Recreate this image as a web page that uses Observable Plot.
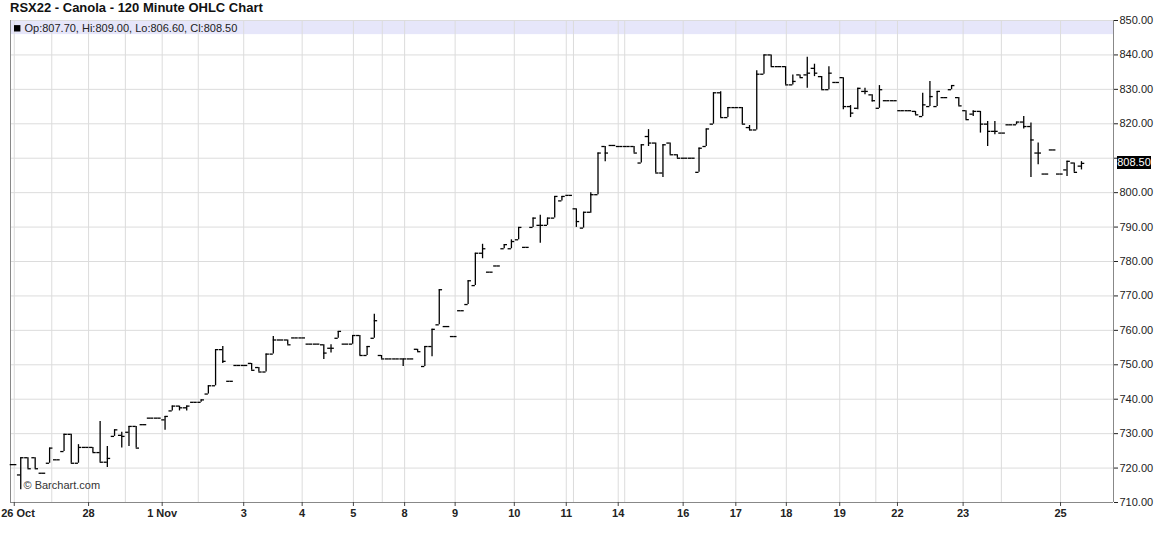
<!DOCTYPE html>
<html>
<head>
<meta charset="utf-8">
<script src="https://cdn.jsdelivr.net/npm/d3@7"></script>
<script src="https://cdn.jsdelivr.net/npm/@observablehq/plot@0.6"></script>
<style>
  html, body { margin: 0; padding: 0; background: #fff; }
  #wrap { position: relative; width: 1156px; height: 542px; overflow: hidden; font-family: "Liberation Sans", Arial, sans-serif; }
  #title { position: absolute; left: 10px; top: 0px; font-size: 13px; font-weight: bold; color: #111; line-height: 16px; white-space: nowrap; }
  #last { position: absolute; background: #000; color: #fff; font-size: 11px; line-height: 13px; height: 13px; text-align: center; }
</style>
</head>
<body>
<div id="wrap">
  <div id="title">RSX22 - Canola - 120 Minute OHLC Chart</div>
</div>
<script>
// OHLC values of the 120-minute bars (in order)
const O = [721,718,723,723,718.5,721.4,722.4,724.8,729.8,721.4,726,726,724.5,721.7,729.2,729.5,730.4,732.1,732.6,734.5,734.5,734,736.6,738,737.5,739.1,739.1,741.5,743.9,754.4,745.2,749.8,749.8,750.4,749.2,747.9,753.1,757.2,757.2,757.8,757.8,756,756,755.8,754.8,757.7,756,756,758.5,752.7,757.7,752.7,751.7,751.7,751.7,751.7,754.5,749.5,755.3,761.6,761.1,758.2,765.7,767.5,773,782.4,776.9,778.7,783.7,783.7,786.3,784.1,789.9,790.5,790.5,792.6,797.6,799.2,795.3,789.7,794.3,799.4,813.4,813.7,813.4,813.4,813.4,808.6,816.3,814.4,805.7,814.4,811,810,810,805.9,813.4,819.9,829,821.8,824.7,824.7,818.9,818.2,834.4,840,836.6,836.6,831.3,834.2,834.2,836.1,833.7,829.9,832,833.4,825,824.5,829.4,828.4,824.5,826.7,826.7,823.8,823.8,823.6,822.1,825,825,827.6,829.9,827.6,823.8,822.8,823.6,819.9,817.8,817.3,819.7,819.7,820.5,819.2,811.5,805.4,812.4,805.4,806.6,808.6,807.7];
const H = [721,723,723,723,718.5,725.8,722.4,729.8,729.8,726.8,726,726,733.5,726.3,731.1,730.4,732.1,732.1,732.6,734.5,734.5,735,738,738,738,739.1,739.8,743.9,754.4,755.3,745.2,749.8,749.8,750.4,749.2,753.1,758.2,757.2,757.2,757.8,757.8,756,756,755.8,755.8,759.7,756,758.5,758.5,755.3,764.7,752.7,751.7,751.7,751.7,751.7,754.5,755.3,760.3,771.8,761.1,758.2,765.7,774.4,782.4,785,776.9,778.7,784.9,786.3,789.9,784.1,792.6,793.4,792.6,798.9,798.9,799.2,795.3,794.3,800,811.5,813.4,813.7,813.4,813.4,813.4,813.9,818.3,814.4,813.9,814.4,811,810,810,813,818.5,829,829.3,824.7,824.7,824.7,819.5,835.4,840,840,836.6,836.6,834.2,834.2,839.3,837.3,833.7,836.6,832,833.4,825.3,830.3,830.3,828.4,831.1,826.7,826.7,823.8,823.8,823.6,828.9,832.3,829.4,827.6,831.1,827.6,823.8,823.8,823.6,820.7,820.7,817.3,819.7,820.5,822.1,820.2,814.4,805.4,812.4,805.4,809.1,808.6,809];
const L = [721,713.7,719.8,719.8,718.5,721.4,722.4,724.8,721.4,721.4,726,724.5,721.7,720.2,729.2,725.8,726.3,725.8,732.6,734.5,734.5,731,736.6,736.6,736.6,739.1,739.1,741.5,743.9,750.4,745.2,749.8,749.8,748.4,747.9,747.9,753.1,757.2,755.8,757.8,757.8,756,756,751.5,753.4,757.7,756,756,752.7,752.7,757.7,751.7,751.7,751.7,749.5,751.7,753.8,749.5,752.3,761.6,761.1,758.2,765.7,767.5,773,780.8,776.9,778.7,783.7,783.7,786.3,784.1,789.9,785.3,790.5,792.6,797.6,799.2,789.9,789.7,794,799.4,809,813.7,813.4,813.4,811.5,808.6,813.4,805.7,804.4,811,810,810,810,805.9,813.4,819.9,821.8,821.8,824.7,819.9,818,818.2,834.4,836.6,836.6,831.3,831.3,833.4,830.3,833.7,829.9,829.9,832,824.1,821.8,824.1,828.4,826.3,824.5,826.7,826.7,823.8,823.8,822.6,822.1,825,825,827.6,829.9,825.2,821.2,822.1,817.3,813.4,816.8,817.3,819.7,819.7,818.5,804.4,808.1,805.4,812.4,805.4,804.7,805.9,806.6];
const C = [721,723,719.8,719.8,718.5,725.8,722.4,729.8,721.4,726,726,724.5,721.7,722.8,731.1,729.2,732.1,725.8,732.6,734.5,734.5,735,738,737.5,738,739.1,739.8,743.9,754.4,751,745.2,749.8,749.8,748.4,747.9,753.1,757.2,757.2,755.8,757.8,757.8,756,756,753.4,754.8,759.7,756,758.5,752.7,755.3,762.8,751.7,751.7,751.7,751.7,751.7,753.8,755.3,760.3,771.8,761.1,758.2,765.7,774.4,782.4,783.7,776.9,778.7,784.9,785.8,789.9,784.1,792.6,790.5,792.6,798.9,798.9,799.2,791.6,794.3,799.4,811.5,811.5,813.7,813.4,813.4,811.5,813.9,814.4,805.7,813.9,811,810,810,810,812.9,818.5,829,821.8,824.7,824.7,819.9,818.2,834.4,840,836.6,836.6,831.3,832.3,833.4,834.7,834.7,829.9,834.7,832,825,823.1,830.3,829.4,826.7,829.9,826.7,826.7,823.8,823.8,822.6,825.5,827.9,829.4,827.6,831.1,825.2,821.2,823.6,819.9,817.8,817.8,817.3,819.7,820.5,819.2,815.3,811.5,805.4,812.4,805.4,809.1,805.9,808.5];

// date axis (positions in bar index units) and labels
const tickX = [0.1, 10.4, 20.6, 31.9, 40.0, 47.1, 54.2, 61.2, 69.4, 76.6, 83.8, 92.8, 100.1, 107.1, 114.5, 122.5, 131.6, 145.1];
const tickLabels = ["26 Oct", "28", "1 Nov", "3", "4", "5", "8", "9", "10", "11", "14", "16", "17", "18", "19", "22", "23", "25"];
const extraGridX = [5.3, 15.5, 25.6, 51.1, 77.6, 84.7, 119.5, 136.9];
// price axis
const yTicks = [710, 720, 730, 740, 750, 760, 770, 780, 790, 800, 810, 820, 830, 840, 850];
const xDomain = [-0.42, 152.44];
const yDomain = [710, 850];

const bars = O.map((o, i) => ({i, o, h: H[i], l: L[i], c: C[i]}));
const last = bars[bars.length - 1];
const header = `Op:${last.o.toFixed(2)}, Hi:${last.h.toFixed(2)}, Lo:${last.l.toFixed(2)}, Cl:${last.c.toFixed(2)}`;
const tk = 0.46;
const font = "'Liberation Sans', Arial, sans-serif";
const firstTick = tickX.slice(0, 1);
const otherTicks = tickX.slice(1);

const plot = Plot.plot({
  width: 1156,
  height: 542,
  marginTop: 20,
  marginBottom: 40,
  marginLeft: 10,
  marginRight: 43,
  x: {domain: xDomain, axis: null},
  y: {domain: yDomain, axis: null},
  style: {background: "transparent", fontFamily: font, overflow: "visible"},
  marks: [
    Plot.rect([0], {x1: xDomain[0], x2: xDomain[1], y1: yDomain[1], y2: yDomain[1] - 4.1, fill: "#e6e6fa"}),
    Plot.ruleY(yTicks, {stroke: "#dcdcdc"}),
    Plot.ruleX(tickX.concat(extraGridX), {stroke: "#dcdcdc"}),
    Plot.ruleX([xDomain[0]], {stroke: "#888"}),
    Plot.ruleX([xDomain[1]], {stroke: "#888"}),
    Plot.ruleY([yDomain[0]], {stroke: "#888"}),
    Plot.axisY(yTicks, {anchor: "right", tickSize: 4, tickPadding: 2, fontSize: 11, color: "#222",
      tickFormat: d => d === 810 ? "" : d.toFixed(2), label: null}),
    Plot.axisX(tickX, {anchor: "bottom", tickSize: 4, tickFormat: () => "", color: "#444", label: null}),
    Plot.text(firstTick, {x: d => d, text: () => tickLabels[0], frameAnchor: "bottom", lineAnchor: "top",
      textAnchor: "start", dx: -13, dy: 7, fontSize: 11, fontWeight: "bold", fill: "#222"}),
    Plot.text(otherTicks, {x: d => d, text: (d, i) => tickLabels[i + 1], frameAnchor: "bottom", lineAnchor: "top",
      dy: 7, fontSize: 11, fontWeight: "bold", fill: "#222"}),
    Plot.dot([0], {x: xDomain[0], y: yDomain[1], dx: 6.7, dy: 7.8, symbol: "square", r: 3.6, fill: "#000", stroke: null}),
    Plot.text([header], {x: xDomain[0], y: yDomain[1], dx: 14, dy: 8, textAnchor: "start", fontSize: 11, fill: "#222"}),
    Plot.text(["© Barchart.com"], {frameAnchor: "bottom-left", dx: 13, dy: -14, textAnchor: "start", fontSize: 11, fill: "#333"}),
    Plot.ruleX(bars, {x: "i", y1: "l", y2: "h", stroke: "#000", strokeWidth: 1.3}),
    Plot.ruleY(bars, {y: "o", x1: d => d.i - tk, x2: "i", stroke: "#000", strokeWidth: 1.3}),
    Plot.ruleY(bars, {y: "c", x1: "i", x2: d => d.i + tk, stroke: "#000", strokeWidth: 1.3})
  ]
});
plot.style.position = "absolute";
plot.style.left = "0px";
plot.style.top = "0px";
const wrap = document.getElementById("wrap");
wrap.appendChild(plot);
const title = document.getElementById("title");
wrap.appendChild(title);

// last price badge on the price axis
const ys = plot.scale("y");
const xs = plot.scale("x");
const badge = document.createElement("div");
badge.id = "last";
badge.textContent = last.c.toFixed(2);
const left = xs.apply(xDomain[1]) + 4;
badge.style.left = left + "px";
badge.style.width = "34px";
badge.style.top = (ys.apply(last.c) - 6.5) + "px";
wrap.appendChild(badge);
</script>
</body>
</html>
